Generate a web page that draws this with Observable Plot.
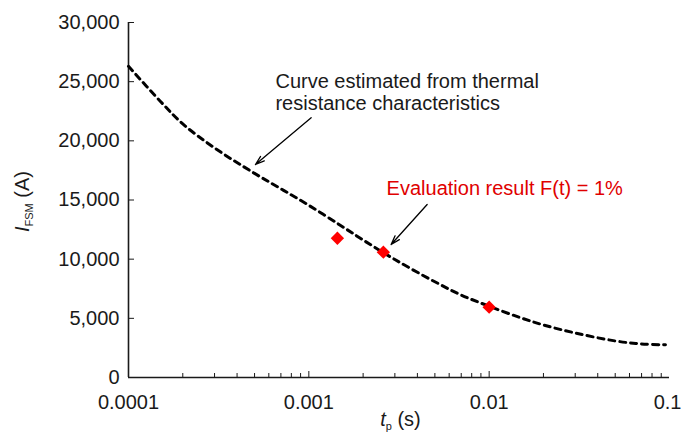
<!DOCTYPE html>
<html><head><meta charset="utf-8">
<script src="https://cdn.jsdelivr.net/npm/d3@7"></script>
<script src="https://cdn.jsdelivr.net/npm/@observablehq/plot@0.6"></script>
<style>body{margin:0;overflow:hidden;background:#fff}</style>
</head><body><div id="chart"></div>
<script>
// Estimated curve (from thermal resistance characteristics)
const curveT = [1e-4, 1.5e-4, 2e-4, 3e-4, 5e-4, 7e-4, 1e-3, 1.5e-3, 2e-3, 3e-3, 5e-3, 7e-3, 1e-2, 1.5e-2, 2e-2, 3e-2, 5e-2, 7e-2, 9.5e-2];
const curveI = [26300, 23350, 21430, 19400, 17250, 15950, 14550, 12850, 11620, 9970, 8090, 6970, 6020, 5040, 4440, 3760, 3090, 2840, 2760];
// Evaluation results F(t) = 1%
const evalT = [0.00144, 0.00259, 0.01];
const evalI = [11770, 10590, 5940];
// Axes
const xMajorTicks = [1e-4, 1e-3, 1e-2, 1e-1];
const xMajorLabels = ["0.0001", "0.001", "0.01", "0.1"];
const xMinorTicks = [2e-4,3e-4,4e-4,5e-4,6e-4,7e-4,8e-4,9e-4,2e-3,3e-3,4e-3,5e-3,6e-3,7e-3,8e-3,9e-3,2e-2,3e-2,4e-2,5e-2,6e-2,7e-2,8e-2,9e-2];
const yTicks = [0, 5000, 10000, 15000, 20000, 25000, 30000];
// Annotations
const noteCurveText = "Curve estimated from thermal\nresistance characteristics";
const noteCurvePos = {x: 6.53e-4, y: 25790};
const noteCurveArrow = {x1: 1.03e-3, y1: 21950, x2: 5.06e-4, y2: 18000};
const noteEvalText = "Evaluation result F(t) = 1%";
const noteEvalPos = {x: 2.70e-3, y: 16650};
const noteEvalArrow = {x1: 4.53e-3, y1: 14620, x2: 2.86e-3, y2: 11240};

const curve = curveT.map((t, i) => ({t, v: curveI[i]}));
const evals = evalT.map((t, i) => ({t, v: evalI[i]}));
const ink = "#1a1a1a";
const xLabel = d => xMajorLabels[xMajorTicks.indexOf(d)];

const plot = Plot.plot({
  width: 681,
  height: 432,
  marginLeft: 128,
  marginRight: 12,
  marginTop: 22,
  marginBottom: 55,
  style: {fontFamily: "'Liberation Sans', Arial, sans-serif", fontSize: "20px", color: ink, background: "#fff"},
  x: {type: "log", domain: [1e-4, 0.1]},
  y: {domain: [0, 30000]},
  marks: [
    Plot.axisX(xMajorTicks.slice(0, 3), {tickSize: -6, tickPadding: 23, tickFormat: xLabel, label: null, stroke: ink, fill: ink}),
    Plot.axisX(xMajorTicks.slice(3), {tickSize: -6, tickPadding: 23, tickFormat: xLabel, label: null, stroke: ink, fill: ink, textAnchor: "end", dx: 12}),
    Plot.axisX(xMinorTicks, {tickSize: -4, tickFormat: () => "", label: null, stroke: ink}),
    Plot.axisY(yTicks, {tickSize: -6, tickPadding: 15, tickFormat: d3.format(","), label: null, stroke: ink, fill: ink}),
    Plot.ruleX([1e-4], {stroke: ink, strokeWidth: 1.6}),
    Plot.ruleY([0], {stroke: ink, strokeWidth: 1.6}),
    Plot.line(curve, {x: "t", y: "v", curve: "catmull-rom", stroke: "#000", strokeWidth: 3, strokeDasharray: "6,5"}),
    Plot.dot(evals, {x: "t", y: "v", symbol: "diamond2", r: 6, fill: "#ff0000", stroke: "none"}),
    Plot.arrow([noteCurveArrow], {x1: "x1", y1: "y1", x2: "x2", y2: "y2", stroke: "#000", strokeWidth: 1.3, headLength: 11, headAngle: 35}),
    Plot.arrow([noteEvalArrow], {x1: "x1", y1: "y1", x2: "x2", y2: "y2", stroke: "#000", strokeWidth: 1.3, headLength: 11, headAngle: 35}),
    Plot.text([noteCurvePos], {x: "x", y: "y", text: () => noteCurveText, textAnchor: "start", lineAnchor: "top", lineHeight: 1.115, fontSize: 20, fill: ink}),
    Plot.text([noteEvalPos], {x: "x", y: "y", text: () => noteEvalText, textAnchor: "start", lineAnchor: "top", fontSize: 20, fill: "#e00000"})
  ]
});

// Axis titles with italic symbols and subscripts
const svg = d3.select(plot.tagName.toLowerCase() === "svg" ? plot : plot.querySelector("svg"));
const xr = plot.scale("x").range, yr = plot.scale("y").range;
const xt = svg.append("text")
  .attr("x", (xr[0] + xr[1]) / 2 + 2).attr("y", 426)
  .attr("text-anchor", "middle").attr("fill", ink).attr("font-size", 20);
xt.append("tspan").attr("font-style", "italic").text("t");
xt.append("tspan").attr("font-size", 11).attr("dy", 4).text("p");
xt.append("tspan").attr("dy", -4).text(" (s)");

const yt = svg.append("text")
  .attr("transform", `translate(29,${(yr[0] + yr[1]) / 2 + 2}) rotate(-90)`)
  .attr("text-anchor", "middle").attr("fill", ink).attr("font-size", 20);
yt.append("tspan").attr("font-style", "italic").text("I");
yt.append("tspan").attr("font-size", 11).attr("dy", 4).text("FSM");
yt.append("tspan").attr("dy", -4).text(" (A)");

document.getElementById("chart").appendChild(plot);
</script>
</body></html>
